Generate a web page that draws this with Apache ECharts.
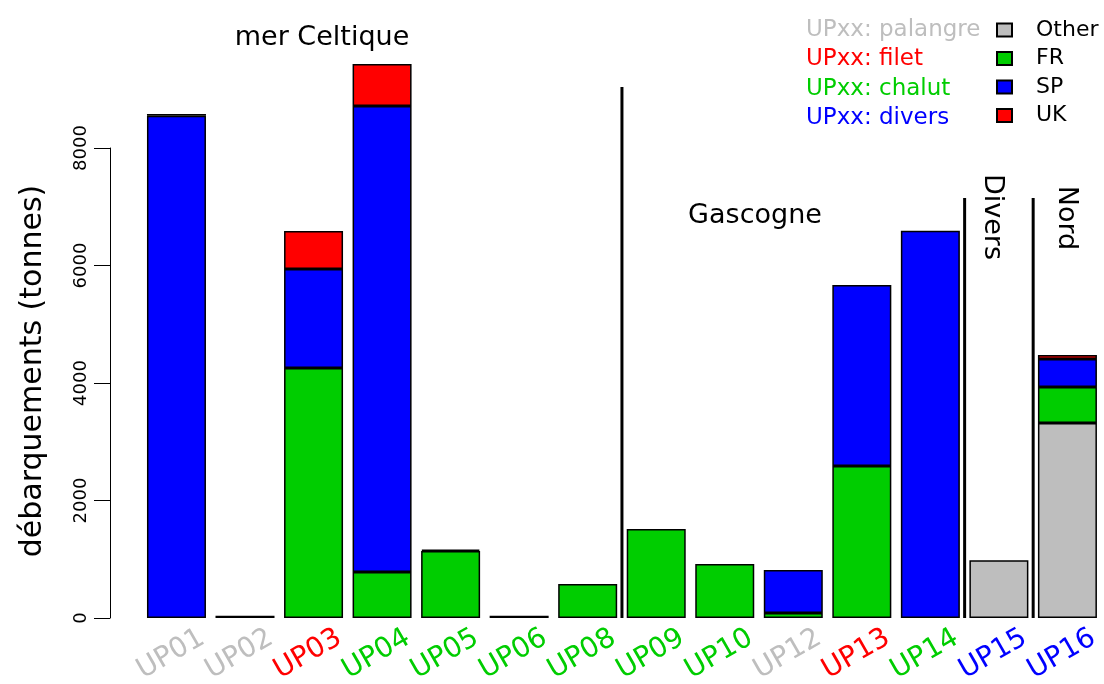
<!DOCTYPE html>
<html>
<head>
<meta charset="utf-8">
<script src="https://cdn.jsdelivr.net/npm/echarts@6/dist/echarts.min.js"></script>
<style>
html, body { margin: 0; padding: 0; background: #fff; }
#chart { width: 1104px; height: 684px; }
</style>
</head>
<body>
<div id="chart"></div>
<script>
// débarquements par UP, empilés par pays
const categories = ['UP01', 'UP02', 'UP03', 'UP04', 'UP05', 'UP06', 'UP08', 'UP09', 'UP10', 'UP12', 'UP13', 'UP14', 'UP15', 'UP16'];
const other = [0, 0, 0, 0, 0, 0, 0, 0, 0, 0, 0, 0, 985, 3320];
const fr = [0, 40, 4255, 783, 1140, 40, 580, 1515, 920, 85, 2587, 0, 0, 613];
const sp = [8550, 0, 1685, 7932, 25, 0, 0, 0, 0, 732, 3081, 6590, 0, 477];
const uk = [30, 0, 647, 715, 0, 0, 0, 0, 0, 0, 0, 0, 0, 68];
// métier de chaque UP (couleur du libellé)
const metier = ['palangre', 'palangre', 'filet', 'chalut', 'chalut', 'chalut', 'chalut', 'chalut', 'chalut', 'palangre', 'filet', 'chalut', 'divers', 'divers'];
const yTicks = [0, 2000, 4000, 6000, 8000];
// séparateurs de zones (position entre barres, hauteur)
const sepPos = [6.5, 11.5, 12.5];
const sepTop = [9040, 7150, 7150];

const metierColor = { palangre: '#bebebe', filet: '#ff0000', chalut: '#00cd00', divers: '#0000ff' };
const FONT = 'DejaVu Sans';

const chart = echarts.init(document.getElementById('chart'));

const barSeries = [
  { name: 'Other', data: other, color: '#bebebe' },
  { name: 'FR', data: fr, color: '#00cd00' },
  { name: 'SP', data: sp, color: '#0000ff' },
  { name: 'UK', data: uk, color: '#ff0000' },
].map((s) => ({
  name: s.name,
  type: 'bar',
  stack: 'total',
  xAxisIndex: 0,
  yAxisIndex: 0,
  barWidth: 59,
  data: s.data.map((v) => (v ? v : '-')),
  itemStyle: { color: s.color, borderColor: '#000', borderWidth: 1.5 },
  emphasis: { disabled: true },
}));

const sepSeries = sepPos.map((x, i) => ({
  type: 'line',
  xAxisIndex: 1,
  yAxisIndex: 0,
  symbol: 'none',
  silent: true,
  lineStyle: { color: '#000', width: 3 },
  data: [[x, 0], [x, sepTop[i]]],
}));

const legendTexts = Object.keys(metierColor).map((k, i) => ({
  type: 'text',
  x: 806,
  y: 30 + i * 29.3,
  style: {
    text: `UPxx: ${k}`,
    fill: metierColor[k],
    font: `23px "${FONT}"`,
    align: 'left',
    verticalAlign: 'middle',
  },
}));

const note = (text, x, y, rot) => ({
  type: 'text',
  x,
  y,
  rotation: rot || 0,
  style: { text, font: `27px "${FONT}"`, fill: '#000', align: 'center', verticalAlign: 'middle' },
});

chart.setOption({
  animation: false,
  backgroundColor: '#fff',
  textStyle: { fontFamily: FONT, color: '#000' },
  grid: [
    { left: 142.2, width: 959.5, top: 30.5, height: 587.5, outerBoundsMode: 'none' },
    { left: 110, width: 992, top: 148, height: 470, outerBoundsMode: 'none' },
    { left: 168.2, width: 959.5, top: 30.5, height: 587.5, outerBoundsMode: 'none' },
  ],
  legend: {
    data: ['Other', 'FR', 'SP', 'UK'],
    orient: 'vertical',
    left: 996,
    top: 19,
    padding: 0,
    icon: 'rect',
    itemWidth: 15,
    itemHeight: 13,
    itemGap: 6.5,
    selectedMode: false,
    textStyle: { fontFamily: FONT, fontSize: 22, lineHeight: 22, color: '#000', padding: [0, 0, 0, 19] },
  },
  xAxis: [
    { type: 'category', gridIndex: 0, data: categories, show: false },
    { type: 'value', gridIndex: 0, min: -0.5, max: 13.5, show: false },
    { type: 'value', gridIndex: 1, show: false },
    {
      type: 'category',
      gridIndex: 2,
      data: categories,
      axisLine: { show: false },
      axisTick: { show: false },
      axisLabel: {
        rotate: 30,
        margin: 18,
        interval: 0,
        fontFamily: FONT,
        fontSize: 28,
        color: (v, i) => metierColor[metier[i]],
      },
    },
  ],
  yAxis: [
    {
      type: 'value',
      gridIndex: 0,
      min: 0,
      max: 10000,
      show: false,
    },
    {
      type: 'value',
      gridIndex: 1,
      min: yTicks[0],
      max: yTicks[yTicks.length - 1],
      interval: 2000,
      axisLine: { show: true, lineStyle: { color: '#000', width: 1 } },
      axisTick: { show: true, length: 16, lineStyle: { color: '#000', width: 1 } },
      axisLabel: {
        rotate: 90,
        margin: 20,
        fontFamily: FONT,
        fontSize: 18,
        color: '#000',
        formatter: (v) => String(v),
      },
      splitLine: { show: false },
    },
    { type: 'value', gridIndex: 2, show: false },
  ],
  graphic: [
    ...legendTexts,
    {
      type: 'text',
      x: 33,
      y: 371,
      rotation: Math.PI / 2,
      style: { text: 'débarquements (tonnes)', font: `30px "${FONT}"`, fill: '#000', align: 'center', verticalAlign: 'middle' },
    },
    note('mer Celtique', 322, 38),
    note('Gascogne', 755, 216),
    note('Divers', 992, 217, -Math.PI / 2),
    note('Nord', 1066, 218, -Math.PI / 2),
  ],
  series: [...barSeries, ...sepSeries],
});
</script>
</body>
</html>
